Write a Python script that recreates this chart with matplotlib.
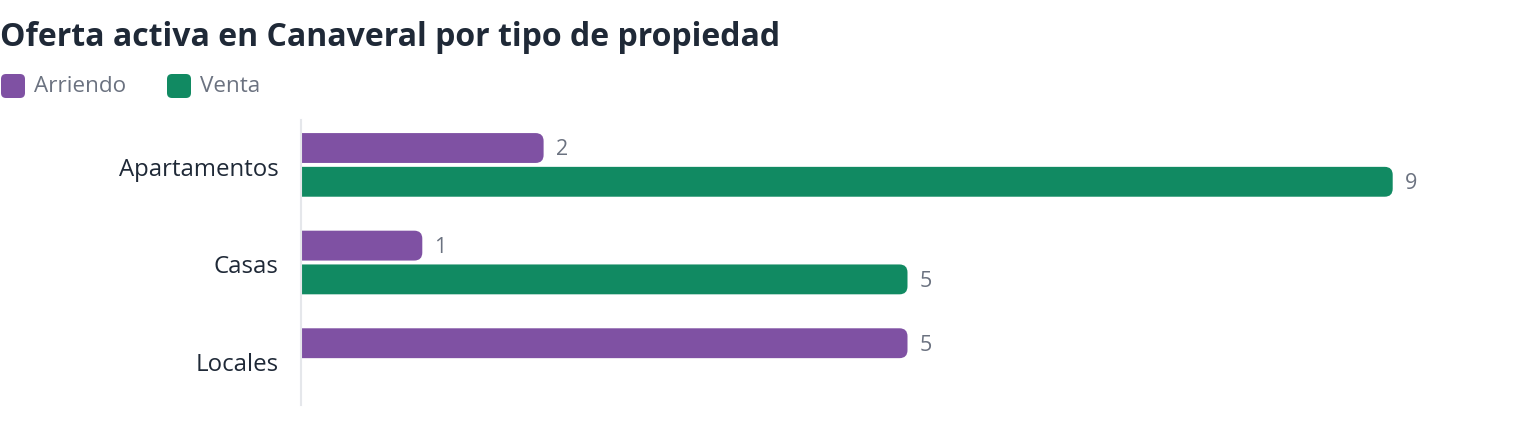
import matplotlib.pyplot as plt
import numpy as np
from matplotlib.patches import FancyBboxPatch
from matplotlib.transforms import IdentityTransform

categories = ["Apartamentos", "Casas", "Locales"]
arriendo = [2, 1, 5]
venta = [9, 5, 0]
series_names = ["Arriendo", "Venta"]
colors = ["#7f51a3", "#118a62"]

plt.rcParams['font.family'] = ['Open Sans', 'DejaVu Sans']

W, H = 1520, 446
fig = plt.figure(figsize=(W / 100, H / 100), dpi=100)
ax = fig.add_axes([301 / W, 1 - 405 / H, (1514 - 301) / W, (405 - 120) / H])

y = np.arange(len(categories))
bar_h = 0.306
off = 0.173
ax.set_xlim(0, 10)
ax.set_ylim(2.46, -0.46)

# px per data unit, for rounded ends
px_x = (1514 - 301) / 10
px_y = (405 - 120) / 2.92
r = 8 / px_x
aspect = px_x / px_y

for vals, dy, col in [(arriendo, -off, colors[0]), (venta, off, colors[1])]:
    for yi, v in zip(y, vals):
        if v <= 0:
            continue
        box = FancyBboxPatch((-r, yi + dy - bar_h / 2), v + r, bar_h,
                             boxstyle=f"round,pad=0,rounding_size={r}",
                             mutation_aspect=aspect, fc=col, ec='none', lw=0)
        ax.add_patch(box)
        ax.text(v + 12 / px_x, yi + dy + 0.02, str(v), va='center', ha='left',
                fontsize=15.5, color='#6b7280')

ax.set_yticks(y + 0.02)
ax.set_yticklabels(categories, fontsize=17.3, color='#1f2937')
ax.tick_params(axis='y', length=0, pad=16)
ax.set_xticks([])
for s in ['top', 'right', 'bottom']:
    ax.spines[s].set_visible(False)
ax.spines['left'].set_color('#e5e7eb')
ax.spines['left'].set_linewidth(1.5)

fig.text(0.0, 1 - 38 / H, "Oferta activa en Canaveral por tipo de propiedad",
         fontsize=23, fontweight='bold', color='#1f2937', va='center', ha='left')

# legend
for x0, name, col in [(0, series_names[0], colors[0]), (166, series_names[1], colors[1])]:
    sq = FancyBboxPatch((x0 + 1, H - 98), 24, 24,
                        boxstyle="round,pad=0,rounding_size=5",
                        fc=col, ec='none', transform=IdentityTransform())
    fig.add_artist(sq)
    fig.text((x0 + 34) / W, 1 - 86 / H, name, fontsize=16.2, color='#6b7280',
             va='center', ha='left')

fig.savefig("out.png", dpi=100)
